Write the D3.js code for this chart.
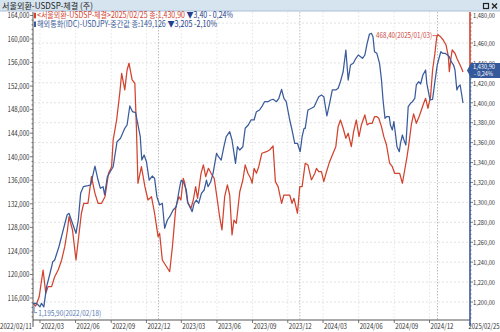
<!DOCTYPE html>
<html><head><meta charset="utf-8">
<script src="https://cdn.jsdelivr.net/npm/d3@7"></script>
<style>
html,body{margin:0;padding:0;background:#fff;}
svg{display:block;}
text{font-family:"Noto Sans CJK KR","DejaVu Sans",sans-serif;}
</style></head><body>
<svg id="c" width="500" height="332"></svg>
<script>
// ---- data ----
const krwDates = ["2022-02-11","2022-02-18","2022-02-27","2022-03-09","2022-03-16","2022-03-22","2022-03-31","2022-04-08","2022-04-17","2022-04-26","2022-05-04","2022-05-11","2022-05-15","2022-05-24","2022-06-02","2022-06-10","2022-06-16","2022-06-22","2022-07-03","2022-07-12","2022-07-21","2022-07-29","2022-08-07","2022-08-16","2022-08-25","2022-09-02","2022-09-06","2022-09-15","2022-09-23","2022-09-28","2022-10-06","2022-10-12","2022-10-17","2022-10-25","2022-11-01","2022-11-05","2022-11-09","2022-11-18","2022-11-27","2022-12-05","2022-12-14","2022-12-22","2022-12-31","2023-01-04","2023-01-11","2023-01-22","2023-01-30","2023-02-06","2023-02-15","2023-02-23","2023-02-28","2023-03-06","2023-03-10","2023-03-17","2023-03-26","2023-04-01","2023-04-07","2023-04-12","2023-04-21","2023-04-27","2023-05-03","2023-05-10","2023-05-17","2023-05-25","2023-06-02","2023-06-08","2023-06-14","2023-06-21","2023-06-28","2023-07-04","2023-07-10","2023-07-15","2023-07-21","2023-07-30","2023-08-07","2023-08-13","2023-08-20","2023-08-27","2023-08-31","2023-09-05","2023-09-11","2023-09-17","2023-09-25","2023-10-07","2023-10-15","2023-10-24","2023-10-30","2023-11-06","2023-11-15","2023-11-21","2023-11-30","2023-12-06","2023-12-12","2023-12-17","2023-12-26","2024-01-01","2024-01-07","2024-01-15","2024-01-22","2024-01-31","2024-02-09","2024-02-13","2024-02-19","2024-02-26","2024-03-03","2024-03-10","2024-03-18","2024-03-27","2024-04-03","2024-04-09","2024-04-15","2024-04-22","2024-04-29","2024-05-05","2024-05-13","2024-05-19","2024-05-26","2024-06-02","2024-06-08","2024-06-17","2024-06-23","2024-06-29","2024-07-06","2024-07-12","2024-07-18","2024-07-23","2024-07-30","2024-08-05","2024-08-12","2024-08-20","2024-08-27","2024-09-02","2024-09-08","2024-09-15","2024-09-22","2024-09-28","2024-10-04","2024-10-09","2024-10-15","2024-10-21","2024-10-28","2024-11-04","2024-11-10","2024-11-16","2024-11-21","2024-11-27","2024-12-05","2024-12-13","2024-12-22","2024-12-29","2025-01-03","2025-01-09","2025-01-14","2025-01-20","2025-01-25","2025-01-27","2025-01-30","2025-02-02","2025-02-08","2025-02-12","2025-02-17","2025-02-22","2025-02-25"];
const krwValues = [1198.7,1195.9,1205.3,1232.1,1208.7,1215.4,1215.4,1225.4,1232.1,1242.2,1255.5,1272.3,1285.6,1272.3,1242.2,1269.0,1289.1,1299.1,1299.1,1325.8,1309.1,1299.1,1299.1,1305.7,1329.2,1335.8,1362.7,1382.7,1409.5,1429.6,1412.9,1432.9,1439.7,1422.9,1419.6,1376.0,1319.2,1335.8,1315.8,1302.4,1305.7,1289.1,1265.6,1269.0,1242.2,1235.4,1230.4,1255.5,1295.7,1305.7,1302.4,1324.2,1319.2,1300.7,1294.1,1302.4,1315.8,1304.1,1329.2,1337.6,1325.8,1334.2,1329.2,1324.2,1302.4,1285.6,1272.3,1305.7,1317.5,1307.4,1267.3,1282.3,1279.0,1310.7,1322.5,1337.6,1329.2,1324.2,1319.2,1334.2,1329.2,1335.8,1349.3,1350.9,1352.6,1356.6,1320.8,1315.8,1299.1,1307.4,1307.4,1307.4,1299.1,1304.1,1289.1,1315.8,1315.8,1339.3,1337.6,1322.5,1329.2,1334.2,1330.8,1330.8,1320.8,1330.8,1340.9,1349.3,1355.9,1376.0,1382.7,1374.4,1364.4,1369.4,1355.9,1371.0,1382.7,1366.0,1377.7,1387.8,1377.7,1379.4,1379.4,1386.0,1386.0,1384.4,1376.0,1366.0,1357.6,1339.3,1335.8,1329.2,1329.2,1329.2,1319.2,1332.5,1345.9,1359.3,1377.7,1388.8,1379.4,1386.0,1392.8,1399.5,1404.5,1394.5,1406.1,1432.9,1449.7,1466.0,1468.4,1466.0,1463.0,1458.0,1446.3,1431.2,1443.0,1453.0,1449.7,1444.7,1439.7,1434.6,1430.9];

const jpyDates = ["2022-02-11","2022-02-20","2022-03-01","2022-03-05","2022-03-11","2022-03-18","2022-03-27","2022-04-03","2022-04-08","2022-04-19","2022-04-30","2022-05-10","2022-05-15","2022-05-21","2022-06-02","2022-06-08","2022-06-14","2022-06-21","2022-07-03","2022-07-10","2022-07-21","2022-07-29","2022-08-04","2022-08-11","2022-08-15","2022-08-22","2022-09-06","2022-09-16","2022-09-25","2022-10-06","2022-10-12","2022-10-19","2022-10-26","2022-11-03","2022-11-15","2022-11-19","2022-11-25","2022-12-01","2022-12-08","2022-12-16","2022-12-22","2022-12-28","2023-01-04","2023-01-11","2023-01-17","2023-01-24","2023-01-30","2023-02-08","2023-02-16","2023-02-19","2023-02-25","2023-03-01","2023-03-08","2023-03-14","2023-03-18","2023-03-23","2023-03-29","2023-04-03","2023-04-09","2023-04-15","2023-04-22","2023-04-29","2023-05-05","2023-05-09","2023-05-16","2023-05-22","2023-05-31","2023-06-05","2023-06-12","2023-06-19","2023-06-25","2023-07-04","2023-07-10","2023-07-19","2023-07-24","2023-07-30","2023-08-07","2023-08-13","2023-08-21","2023-08-28","2023-09-05","2023-09-11","2023-09-19","2023-09-25","2023-10-02","2023-10-11","2023-10-18","2023-10-24","2023-11-02","2023-11-08","2023-11-15","2023-11-21","2023-11-27","2023-12-06","2023-12-12","2023-12-19","2023-12-26","2024-01-02","2024-01-07","2024-01-12","2024-01-15","2024-01-22","2024-01-31","2024-02-07","2024-02-13","2024-02-19","2024-02-26","2024-03-03","2024-03-11","2024-03-18","2024-03-25","2024-04-03","2024-04-09","2024-04-15","2024-04-22","2024-04-29","2024-05-05","2024-05-11","2024-05-18","2024-05-25","2024-05-31","2024-06-06","2024-06-11","2024-06-17","2024-06-23","2024-06-29","2024-07-04","2024-07-08","2024-07-12","2024-07-18","2024-07-25","2024-07-30","2024-08-03","2024-08-08","2024-08-12","2024-08-19","2024-08-22","2024-08-27","2024-08-31","2024-09-05","2024-09-08","2024-09-14","2024-09-17","2024-09-22","2024-09-26","2024-10-01","2024-10-07","2024-10-13","2024-10-18","2024-10-24","2024-10-28","2024-11-03","2024-11-08","2024-11-14","2024-11-21","2024-11-24","2024-12-03","2024-12-13","2024-12-22","2024-12-31","2025-01-06","2025-01-09","2025-01-13","2025-01-18","2025-01-23","2025-01-27","2025-01-31","2025-02-05","2025-02-08","2025-02-12","2025-02-15","2025-02-19","2025-02-25"];
const jpyValues = [115100,115100,114500,115100,114500,117900,120200,122150,122450,124710,127550,130100,130390,129250,126990,129250,133780,134910,135080,135200,138420,136040,134630,134910,133500,136600,138300,142550,143130,144830,145390,148620,147650,147480,143400,139440,140290,139150,136040,136720,136330,133210,131800,132090,127840,129250,129810,130950,131510,132650,134910,136040,135480,134350,132090,131510,130660,132090,132650,132090,133780,134350,136040,134910,135760,137180,140580,140000,139440,141700,143400,144250,142840,138880,141700,141140,141700,144830,145390,146240,146240,147650,147940,148500,149350,149350,149640,149760,149350,149930,151450,149930,149350,146240,144540,142280,142280,140850,143400,144830,144830,147940,148230,148500,149350,150200,150490,150200,146920,149080,151340,151340,151620,152750,154440,158130,153030,155580,155870,156720,157280,156990,156720,157280,159270,160850,160970,160390,157840,157570,155870,153030,149640,146530,146800,146800,145390,144540,145950,143400,141700,140850,142280,143690,142840,141990,148500,149080,149350,149930,152190,152750,152360,153880,154730,152470,149640,149760,152750,155580,156990,157840,157570,157570,157280,156990,156140,155580,154730,151340,151900,152190,149126];

const leftTicks = d3.range(116000, 164001, 4000);
const rightTicks = d3.range(1200, 1481, 20);
const xTickDates = ["2022-03-01","2022-06-01","2022-09-01","2022-12-01","2023-03-01","2023-06-01","2023-09-01","2023-12-01","2024-03-01","2024-06-01","2024-09-01","2024-12-01"];
const xTickLabels = ["2022/03","2022/06","2022/09","2022/12","2023/03","2023/06","2023/09","2023/12","2024/03","2024/06","2024/09","2024/12"];
const yearLineDates = ["2023-01-01","2024-01-01","2025-01-01"];
const startLabel = "2022/02/11", endLabel = "2025/02/25";
const titleText = "서울외환-USDSP-체결 (주)";
const legend1 = "<서울외환-USDSP-체결>2025/02/25 종:1,430,90 ", legend1b = "▼3,40 - 0,24%";
const legend2 = "해외통화(IDC)-USDJPY-중간값 종:149,126 ", legend2b = "▼3,205 -2,10%";
const highNote = "468,40(2025/01/03)", highDate = "2025-01-03", highValue = 1468.4;
const lowNote = "1,195,90(2022/02/18)", lowDate = "2022-02-18", lowValue = 1195.9;
const lastTag = ["1,430,90", "- 0,24%"];

// ---- setup ----
const parse = d3.timeParse("%Y-%m-%d");
const RED = "#d2432f", BLUE = "#3a5b9b", NAVY = "#24408a";
const L = 33, R = 470, T = 12, B = 320;
const svg = d3.select("#c");

const x = d3.scaleTime()
  .domain([parse("2022-02-11"), parse("2024-12-01"), parse("2025-01-03"), parse("2025-02-25")])
  .range([33, 429.5, 438, 463]);
const yL = d3.scaleLinear().domain([116000, 160000]).range([298, 39]);
const yR = d3.scaleLinear().domain([1200, 1460]).range([302, 43]);

// title bar
svg.append("rect").attr("x",0).attr("y",0).attr("width",500).attr("height",11).attr("fill","#d6e4f0");
svg.append("line").attr("x1",0).attr("x2",500).attr("y1",11).attr("y2",11).attr("stroke","#aac0d6");
svg.append("text").attr("x",2).attr("y",9).attr("font-size",8.5).attr("fill","#222")
  .attr("textLength",91).attr("lengthAdjust","spacingAndGlyphs").text(titleText);
svg.append("rect").attr("x",483.5).attr("y",3.5).attr("width",5).attr("height",5).attr("fill","none").attr("stroke","#222").attr("stroke-width",1.2);
svg.append("path").attr("d","M492,3.5 L497,8.5 M497,3.5 L492,8.5").attr("stroke","#222").attr("stroke-width",1.3);

// grid
const grid = svg.append("g");
rightTicks.forEach(v => {
  grid.append("line").attr("x1",L+1).attr("x2",R-1).attr("y1",yR(v)).attr("y2",yR(v))
    .attr("stroke","#d9d9d9").attr("stroke-width",0.8).attr("stroke-dasharray","2,2");
});
xTickDates.forEach(d => {
  const xx = x(parse(d));
  grid.append("line").attr("x1",xx).attr("x2",xx).attr("y1",T).attr("y2",B)
    .attr("stroke","#dedede").attr("stroke-width",0.8).attr("stroke-dasharray","1.5,2");
});
yearLineDates.forEach(d => {
  const xx = x(parse(d));
  grid.append("line").attr("x1",xx).attr("x2",xx).attr("y1",T).attr("y2",B)
    .attr("stroke","#b5b5b5").attr("stroke-width",0.9).attr("stroke-dasharray","1.5,1.5");
});

// lines
const krw = krwDates.map((d,i)=>({d:parse(d), v:krwValues[i]}));
const jpy = jpyDates.map((d,i)=>({d:parse(d), v:jpyValues[i]}));
svg.append("path").datum(krw).attr("fill","none").attr("stroke",RED).attr("stroke-width",1.25)
  .attr("stroke-linejoin","round")
  .attr("d", d3.line().x(p=>x(p.d)).y(p=>yR(p.v)));
svg.append("path").datum(jpy).attr("fill","none").attr("stroke",BLUE).attr("stroke-width",1.25)
  .attr("stroke-linejoin","round")
  .attr("d", d3.line().x(p=>x(p.d)).y(p=>yL(p.v)));

// axes lines
svg.append("line").attr("x1",L).attr("x2",L).attr("y1",T).attr("y2",327).attr("stroke","#555");
svg.append("line").attr("x1",L).attr("x2",R).attr("y1",B).attr("y2",B).attr("stroke","#555");

// left axis ticks
const ax = svg.append("g").attr("fill","#333");
d3.range(112800, 164801, 800).forEach(v => {
  const y = yL(v); if (y < T || y > B) return;
  const major = v % 4000 === 0;
  ax.append("line").attr("x1",L-(major?3:1.5)).attr("x2",L).attr("y1",y).attr("y2",y).attr("stroke","#555").attr("stroke-width",0.8);
});
leftTicks.forEach(v => {
  ax.append("text").attr("x",29.5).attr("y",yL(v)+2.8).attr("text-anchor","end").attr("font-size",7.6)
    .attr("textLength",22).attr("lengthAdjust","spacingAndGlyphs").text(d3.format(",")(v));
});

// right axis line (red above tag, blue below)
const lastY = yR(krwValues[krwValues.length-1]) - 1.5;
svg.append("line").attr("x1",R).attr("x2",R).attr("y1",lastY).attr("y2",B+6).attr("stroke",BLUE).attr("stroke-width",1.6);
svg.append("line").attr("x1",R).attr("x2",R).attr("y1",T).attr("y2",lastY).attr("stroke",RED).attr("stroke-width",1.6);
d3.range(1180, 1492, 4).forEach(v => {
  const y = yR(v); if (y < T || y > B) return;
  const major = v % 20 === 0;
  ax.append("line").attr("x1",R).attr("x2",R+(major?3:1.5)).attr("y1",y).attr("y2",y).attr("stroke","#555").attr("stroke-width",0.8);
});
rightTicks.forEach((v,i) => {
  const y = (i === rightTicks.length-1) ? T + 3.5 : yR(v);
  ax.append("text").attr("x",495).attr("y",y+2.8).attr("text-anchor","end").attr("font-size",6.8)
    .attr("textLength",22).attr("lengthAdjust","spacingAndGlyphs")
    .text(d3.format(",")(v) + ",00");
});

// bottom axis
xTickDates.forEach((d,i) => {
  const xx = x(parse(d));
  ax.append("line").attr("x1",xx).attr("x2",xx).attr("y1",B).attr("y2",B+3).attr("stroke","#555").attr("stroke-width",0.8);
  ax.append("text").attr("x",xx+1).attr("y",328.5).attr("font-size",7.6)
    .attr("textLength",23).attr("lengthAdjust","spacingAndGlyphs").text(xTickLabels[i]);
});
ax.append("text").attr("x",32).attr("y",328.5).attr("text-anchor","end").attr("font-size",7.6)
  .attr("textLength",32).attr("lengthAdjust","spacingAndGlyphs").text(startLabel);
ax.append("text").attr("x",499.5).attr("y",328.5).attr("text-anchor","end").attr("font-size",7.6)
  .attr("textLength",31).attr("lengthAdjust","spacingAndGlyphs").text(endLabel);

// legend
svg.append("rect").attr("x",34).attr("y",12.8).attr("width",2).attr("height",5.5).attr("fill",RED);
const lg1 = svg.append("text").attr("x",37).attr("y",18.3).attr("font-size",8.3)
  .attr("textLength",196).attr("lengthAdjust","spacingAndGlyphs");
lg1.append("tspan").attr("fill",RED).text(legend1);
lg1.append("tspan").attr("fill",NAVY).text(legend1b);
svg.append("rect").attr("x",34).attr("y",21.5).attr("width",2).attr("height",5.5).attr("fill",BLUE);
const lg2 = svg.append("text").attr("x",37).attr("y",27).attr("font-size",8.3)
  .attr("textLength",180).attr("lengthAdjust","spacingAndGlyphs");
lg2.append("tspan").attr("fill",BLUE).text(legend2);
lg2.append("tspan").attr("fill",NAVY).text(legend2b);

// high annotation
const hx = x(parse(highDate)), hy = yR(highValue);
svg.append("line").attr("x1",432.5).attr("x2",hx-1).attr("y1",hy+1).attr("y2",hy+1).attr("stroke",RED).attr("stroke-width",0.8);
svg.append("text").attr("x",376).attr("y",hy+3.8).attr("font-size",7.8).attr("fill","#cc4a3c")
  .attr("textLength",56).attr("lengthAdjust","spacingAndGlyphs").text(highNote);

// low annotation
const lx = x(parse(lowDate)), ly = yR(lowValue);
svg.append("path").attr("d",`M${lx-1.5},${ly-2} V${ly+6.5} H${lx+1.5}`).attr("fill","none").attr("stroke","#5a7db5").attr("stroke-width",0.8);
svg.append("text").attr("x",lx+2.5).attr("y",ly+9.5).attr("font-size",7.8).attr("fill","#5a7db5")
  .attr("textLength",63).attr("lengthAdjust","spacingAndGlyphs").text(lowNote);

// last value tag
const cy = lastY;
svg.append("path").attr("d",`M467,${cy} L471,${cy-7.5} L500,${cy-7.5} L500,${cy+7.5} L471,${cy+7.5} Z`).attr("fill","#34589a");
svg.append("text").attr("x",473).attr("y",cy-1).attr("font-size",6).attr("fill","#fff")
  .attr("textLength",22).attr("lengthAdjust","spacingAndGlyphs").text(lastTag[0]);
svg.append("text").attr("x",474).attr("y",cy+6).attr("font-size",6).attr("fill","#fff")
  .attr("textLength",19).attr("lengthAdjust","spacingAndGlyphs").text(lastTag[1]);
</script>
</body></html>
